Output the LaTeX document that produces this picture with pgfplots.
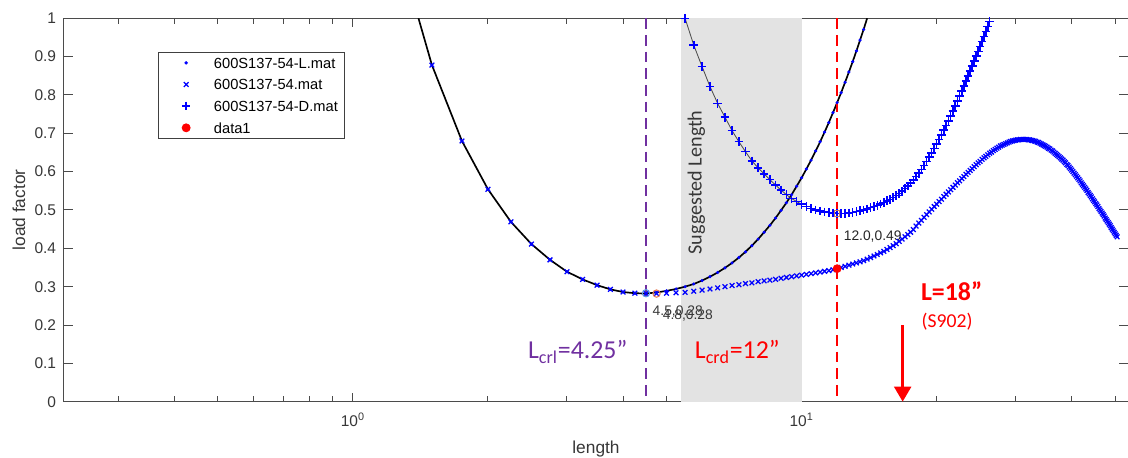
\documentclass[border=0pt]{standalone}
\usepackage{fontspec}
\setmainfont{Liberation Sans}
\newfontfamily\calibri{Carlito}
\usepackage{pgfplots}
\usepackage{pgfplotstable}
\pgfplotsset{compat=1.18}
\usetikzlibrary{arrows.meta}
\definecolor{mblue}{RGB}{0,0,255}
\definecolor{mred}{RGB}{255,0,0}
\definecolor{mpurple}{RGB}{112,48,160}
\definecolor{band}{RGB}{227,227,227}
\definecolor{axgray}{RGB}{75,75,75}
\definecolor{txtgray}{RGB}{55,55,55}
\definecolor{tipblue}{RGB}{90,150,230}
\definecolor{tiporange}{RGB}{230,120,80}
\pgfplotsset{mylegimg/.style={legend image code/.code={\draw[##1] plot coordinates {(0.5cm,0cm)}; \path (0cm,0cm) (1cm,0cm);}}}

% 600S137-54-L.mat (local)
\pgfplotstableread{
x y
1.5 0.878
1.75 0.680
2.0 0.554
2.25 0.469
2.5 0.411
2.75 0.370
3.0 0.339
3.25 0.319
3.5 0.304
3.75 0.293
4.0 0.286
4.25 0.283
4.5 0.282
4.75 0.285
5.0 0.289
5.25 0.294
5.5 0.300
5.75 0.307
6.0 0.316
6.25 0.326
6.5 0.337
6.75 0.349
7.0 0.362
7.25 0.376
7.5 0.391
7.75 0.407
8.0 0.424
8.25 0.442
8.5 0.460
8.75 0.479
9.0 0.499
9.25 0.519
9.5 0.540
9.75 0.562
10.0 0.584
10.25 0.607
10.5 0.630
10.75 0.654
11.0 0.678
11.25 0.703
11.5 0.728
11.75 0.754
12.0 0.780
12.25 0.806
12.5 0.833
12.75 0.860
13.0 0.887
13.25 0.915
13.5 0.943
13.75 0.971
}\tabL

% black curve through the local points
\pgfplotstableread{
x y
1.40 1.000
1.5 0.878
1.75 0.680
2.0 0.554
2.25 0.469
2.5 0.411
2.75 0.370
3.0 0.339
3.25 0.319
3.5 0.304
3.75 0.293
4.0 0.286
4.25 0.283
4.5 0.282
4.75 0.285
5.0 0.289
5.25 0.294
5.5 0.300
5.75 0.307
6.0 0.316
6.25 0.326
6.5 0.337
6.75 0.349
7.0 0.362
7.25 0.376
7.5 0.391
7.75 0.407
8.0 0.424
8.25 0.442
8.5 0.460
8.75 0.479
9.0 0.499
9.25 0.519
9.5 0.540
9.75 0.562
10.0 0.584
10.25 0.607
10.5 0.630
10.75 0.654
11.0 0.678
11.25 0.703
11.5 0.728
11.75 0.754
12.0 0.780
12.25 0.806
12.5 0.833
12.75 0.860
13.0 0.887
13.25 0.915
13.5 0.943
13.75 0.971
14.0 1.000
}\tabLline

% 600S137-54.mat
\pgfplotstableread{
x y
1.5 0.878
1.75 0.680
2.0 0.554
2.25 0.469
2.5 0.411
2.75 0.370
3.0 0.339
3.25 0.319
3.5 0.304
3.75 0.293
4.0 0.286
4.25 0.283
4.5 0.282
4.75 0.282
5.0 0.283
5.25 0.284
5.5 0.285
5.75 0.288
6.0 0.291
6.25 0.294
6.5 0.297
6.75 0.300
7.0 0.303
7.25 0.305
7.5 0.308
7.75 0.310
8.0 0.313
8.25 0.315
8.5 0.317
8.75 0.319
9.0 0.322
9.25 0.324
9.5 0.326
9.75 0.328
10.0 0.330
10.25 0.332
10.5 0.334
10.75 0.336
11.0 0.338
11.25 0.340
11.5 0.342
11.75 0.344
12.0 0.347
12.25 0.350
12.5 0.353
12.75 0.356
13.0 0.359
13.25 0.362
13.5 0.365
13.75 0.368
14.0 0.372
14.25 0.376
14.5 0.380
14.75 0.384
15.0 0.388
15.25 0.392
15.5 0.397
15.75 0.402
16.0 0.407
16.25 0.412
16.5 0.418
16.75 0.424
17.0 0.430
17.25 0.436
17.5 0.442
17.75 0.449
18.0 0.458
18.25 0.466
18.5 0.473
18.75 0.481
19.0 0.488
19.25 0.495
19.5 0.502
19.75 0.509
20.0 0.515
20.25 0.522
20.5 0.528
20.75 0.535
21.0 0.541
21.25 0.547
21.5 0.553
21.75 0.559
22.0 0.565
22.25 0.571
22.5 0.576
22.75 0.582
23.0 0.587
23.25 0.593
23.5 0.598
23.75 0.603
24.0 0.608
24.25 0.613
24.5 0.618
24.75 0.623
25.0 0.627
25.25 0.632
25.5 0.636
25.75 0.640
26.0 0.644
26.25 0.648
26.5 0.651
26.75 0.655
27.0 0.658
27.25 0.661
27.5 0.664
27.75 0.667
28.0 0.669
28.25 0.671
28.5 0.673
28.75 0.675
29.0 0.677
29.25 0.679
29.5 0.680
29.75 0.681
30.0 0.682
30.25 0.683
30.5 0.683
30.75 0.684
31.0 0.684
31.25 0.684
31.5 0.684
31.75 0.684
32.0 0.683
32.25 0.683
32.5 0.682
32.75 0.681
33.0 0.680
33.25 0.679
33.5 0.677
33.75 0.676
34.0 0.674
34.25 0.672
34.5 0.670
34.75 0.668
35.0 0.666
35.25 0.664
35.5 0.661
35.75 0.659
36.0 0.656
36.25 0.654
36.5 0.651
36.75 0.648
37.0 0.645
37.25 0.642
37.5 0.639
37.75 0.636
38.0 0.633
38.25 0.630
38.5 0.626
38.75 0.623
39.0 0.619
39.25 0.616
39.5 0.612
39.75 0.608
40.0 0.604
40.25 0.600
40.5 0.596
40.75 0.592
41.0 0.588
41.25 0.584
41.5 0.580
41.75 0.576
42.0 0.571
42.25 0.567
42.5 0.563
42.75 0.559
43.0 0.555
43.25 0.551
43.5 0.546
43.75 0.542
44.0 0.538
44.25 0.534
44.5 0.529
44.75 0.525
45.0 0.521
45.25 0.517
45.5 0.513
45.75 0.509
46.0 0.504
46.25 0.500
46.5 0.496
46.75 0.492
47.0 0.488
47.25 0.484
47.5 0.479
47.75 0.475
48.0 0.471
48.25 0.467
48.5 0.463
48.75 0.459
49.0 0.454
49.25 0.450
49.5 0.446
49.75 0.442
50.0 0.438
50.25 0.434
50.5 0.430
}\tabM

% 600S137-54-D.mat (distortional)
\pgfplotstableread{
x y
5.5 1.000
5.75 0.930
6.0 0.874
6.25 0.822
6.5 0.778
6.75 0.742
7.0 0.707
7.25 0.678
7.5 0.652
7.75 0.628
8.0 0.610
8.25 0.594
8.5 0.579
8.75 0.565
9.0 0.552
9.25 0.540
9.5 0.530
9.75 0.522
10.0 0.515
10.25 0.509
10.5 0.504
10.75 0.500
11.0 0.497
11.25 0.495
11.5 0.493
11.75 0.492
12.0 0.491
12.25 0.491
12.5 0.491
12.75 0.492
13.0 0.494
13.25 0.496
13.5 0.498
13.75 0.500
14.0 0.503
14.25 0.506
14.5 0.509
14.75 0.512
15.0 0.516
15.25 0.520
15.5 0.524
15.75 0.528
16.0 0.533
16.25 0.538
16.5 0.543
16.75 0.549
17.0 0.556
17.25 0.563
17.5 0.570
17.75 0.578
18.0 0.587
18.25 0.596
18.5 0.606
18.75 0.616
19.0 0.627
19.25 0.638
19.5 0.649
19.75 0.660
20.0 0.672
20.25 0.684
20.5 0.696
20.75 0.708
21.0 0.720
21.25 0.732
21.5 0.745
21.75 0.758
22.0 0.771
22.25 0.784
22.5 0.797
22.75 0.810
23.0 0.823
23.25 0.836
23.5 0.849
23.75 0.862
24.0 0.875
24.25 0.888
24.5 0.901
24.75 0.914
25.0 0.927
25.25 0.940
25.5 0.953
25.75 0.966
26.0 0.979
26.25 0.991
26.5 1.003
}\tabD

% black curve over the upper part of the distortional points
\pgfplotstableread{
x y
5.5 1.000
5.75 0.930
6.0 0.874
6.25 0.822
6.5 0.778
6.75 0.742
7.0 0.707
7.25 0.678
7.5 0.652
7.75 0.628
8.0 0.610
8.25 0.594
8.5 0.579
8.75 0.565
9.0 0.552
9.25 0.540
9.5 0.530
9.75 0.522
10.0 0.515
}\tabDline

\begin{document}
\begin{tikzpicture}
\path[use as bounding box] (-38.4pt,-33.78pt) rectangle (638.4pt,241.02pt);
\begin{axis}[
  at={(0,0)}, anchor=south west,
  scale only axis, width=638.4pt, height=230.04pt,
  xmode=log, xmin=0.2270, xmax=53.4, ymin=0, ymax=1,
  xtick={1,10}, xticklabels={10\textsuperscript{0},10\textsuperscript{1}},
  minor xtick={0.3,0.4,0.5,0.6,0.7,0.8,0.9,2,3,4,5,6,7,8,9,20,30,40,50},
  ytick={0,0.1,0.2,0.3,0.4,0.5,0.6,0.7,0.8,0.9,1},
  yticklabels={0,0.1,0.2,0.3,0.4,0.5,0.6,0.7,0.8,0.9,1},
  tick align=inside, major tick length=5.5pt, minor tick length=3.6pt,
  axis line style={draw=axgray, line width=0.6pt},
  every tick/.style={draw=axgray, line width=0.6pt},
  tick label style={font=\fontsize{9.3}{11}\selectfont, text=txtgray},
  xticklabel style={yshift=-3pt},
  yticklabel style={xshift=-1.2pt},
  xlabel={length}, ylabel={load factor},
  xlabel style={at={(axis description cs:0.5,-0.1339)}, anchor=base, font=\fontsize{10.4}{12}\selectfont, text=txtgray},
  ylabel style={at={(axis description cs:-0.0423,0.5)}, anchor=center, font=\fontsize{10.4}{12}\selectfont, text=txtgray},
  legend cell align=left,
  legend style={at={(axis description cs:0.0883,0.912)}, anchor=north west,
    font=\fontsize{8.8}{10.5}\selectfont, draw=black!75, line width=0.5pt,
    inner xsep=2pt, inner ysep=1pt, row sep=2.4pt, nodes={inner ysep=2.2pt, text depth=0pt}},
  clip=true,
]
% suggested length band
\addplot[fill=band, draw=none, forget plot] coordinates {(5.375,1) (10,1)} \closedcycle;
% black curves
\addplot[black, line width=1pt, forget plot] table {\tabLline};
\addplot[black!70, line width=0.5pt, forget plot] table {\tabDline};
% series
\addplot[only marks, mblue, mark=*, mark size=0.75pt, mylegimg] table {\tabL};
\addlegendentry{600S137-54-L.mat}
\addplot[only marks, mblue, mark=x, mark size=2pt, line width=0.75pt, mylegimg] table {\tabM};
\addlegendentry{600S137-54.mat}
\addplot[only marks, mblue, mark=+, mark size=2.6pt, line width=0.9pt, mylegimg] table {\tabD};
\addlegendentry{600S137-54-D.mat}
% dashed marker lines
\addplot[mpurple, line width=1.3pt, dash pattern=on 6.5pt off 3.5pt, forget plot] coordinates {(4.5,1) (4.5,0)};
\addplot[mred, line width=1.3pt, dash pattern=on 6.5pt off 3.5pt, forget plot] coordinates {(12,1) (12,0)};
% data tips
\addplot[only marks, mark=o, mark size=2.2pt, tipblue, line width=0.6pt, forget plot] coordinates {(4.5,0.283)};
\addplot[only marks, mark=o, mark size=2.2pt, tiporange, line width=0.6pt, forget plot] coordinates {(4.75,0.282)};
\addplot[only marks, mark=square, mark size=1.6pt, tiporange!70!gray, line width=0.5pt, forget plot] coordinates {(12,0.491)};
% red point
\addplot[only marks, mred, mark=*, mark size=2.4pt, mylegimg] coordinates {(12,0.347)};
\addlegendentry{data1}
% arrow
\addplot[mred, line width=1.8pt, -{Triangle[length=9pt,width=10pt]}, forget plot] coordinates {(16.8,0.2) (16.8,0.0)};
% texts
\node[anchor=west, font=\fontsize{8.3}{10}\selectfont, text=txtgray] at (axis cs:4.52,0.2345) {4.5,0.28};
\node[anchor=west, font=\fontsize{8.3}{10}\selectfont, text=txtgray] at (axis cs:4.76,0.2235) {4.8,0.28};
\node[anchor=west, font=\fontsize{8.3}{10}\selectfont, text=black!85] at (axis cs:12.05,0.432) {12.0,0.49};
\node[rotate=90, font=\calibri\fontsize{12.1}{14}\selectfont, text=txtgray] at (axis cs:5.83,0.572) {Suggested Length};
\node[font=\calibri\fontsize{15.5}{18}\selectfont, text=mpurple] at (axis cs:3.17,0.13) {L\textsubscript{crl}=4.25”};
\node[font=\calibri\fontsize{15.5}{18}\selectfont, text=mred] at (axis cs:7.19,0.13) {L\textsubscript{crd}=12”};
\node[font=\calibri\bfseries\fontsize{15.5}{18}\selectfont, text=mred] at (axis cs:21.6,0.287) {L=18”};
\node[font=\calibri\fontsize{11.8}{14}\selectfont, text=mred] at (axis cs:21.1,0.2087) {(S902)};
\end{axis}
\end{tikzpicture}
\end{document}
